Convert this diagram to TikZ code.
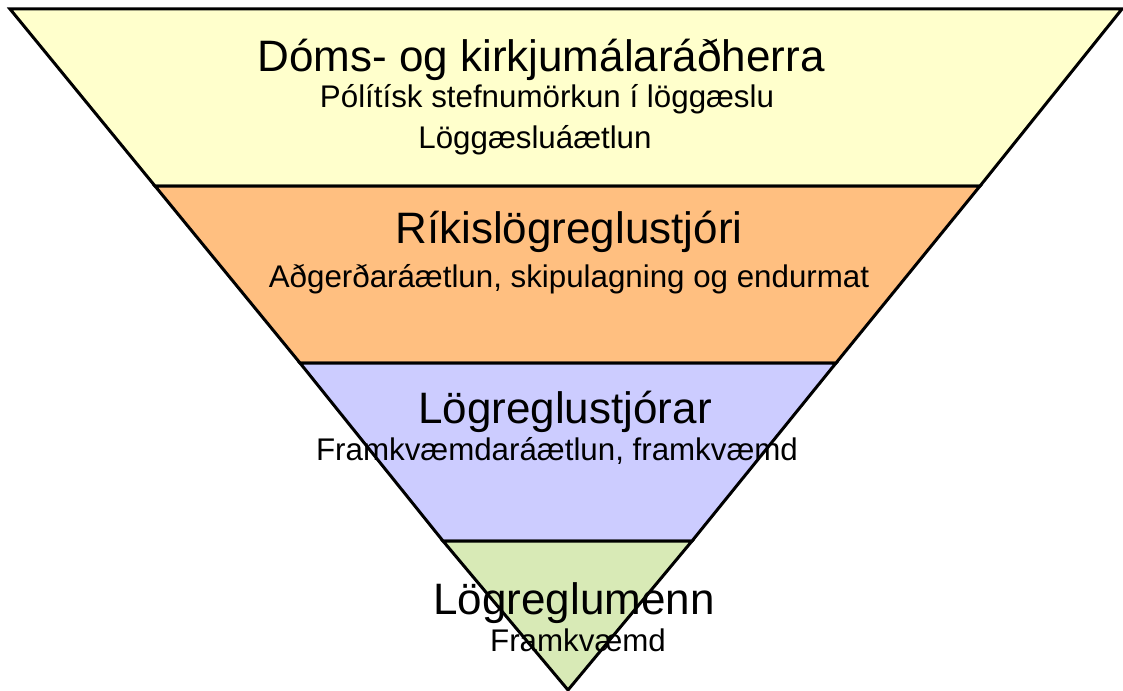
\documentclass[tikz,border=0pt]{standalone}
\usepackage{fontspec}
\setmainfont{Liberation Sans}
\usepackage{tikz}

\definecolor{bandyellow}{HTML}{FFFFCC}
\definecolor{bandorange}{HTML}{FFBF80}
\definecolor{bandblue}{HTML}{CCCCFF}
\definecolor{bandgreen}{HTML}{D8EAB6}

\begin{document}
\begin{tikzpicture}[x=1pt,y=-1pt]
    \tikzset{band/.style = {draw=black, line width=3pt, line join=miter}}
    \tikzset{head/.style = {font=\fontsize{44}{48}\selectfont, inner sep=0pt}}
    \tikzset{sub/.style = {font=\fontsize{31.3}{35}\selectfont, inner sep=0pt}}

    \useasboundingbox (0,0) rectangle (1123,690);

    % bands
    \filldraw[band, fill=bandyellow] (10,9) -- (1122,9) -- (980,186) -- (155,186) -- cycle;
    \filldraw[band, fill=bandorange] (155,186) -- (980,186) -- (836,363) -- (300,363) -- cycle;
    \filldraw[band, fill=bandblue] (300,363) -- (836,363) -- (692,541) -- (443,541) -- cycle;
    \filldraw[band, fill=bandgreen] (443,541) -- (692,541) -- (568,690) -- cycle;

    % texts
    \node[head] (radherra) at (541,60) {Dóms- og kirkjumálaráðherra};
    \node[sub] (stefna) at (547,99) {Pólítísk stefnumörkun í löggæslu};
    \node[sub] (aaetlun) at (535,140) {Löggæsluáætlun};
    \node[head] (rls) at (569,232) {Ríkislögreglustjóri};
    \node[sub] (adgerd) at (569,279) {Aðgerðaráætlun, skipulagning og endurmat};
    \node[head] (stjorar) at (565,412) {Lögreglustjórar};
    \node[sub] (framkv) at (557,451) {Framkvæmdaráætlun, framkvæmd};
    \node[head] (menn) at (574,603) {Lögreglumenn};
    \node[sub] (framkvaemd) at (578,640) {Framkvæmd};
\end{tikzpicture}
\end{document}
